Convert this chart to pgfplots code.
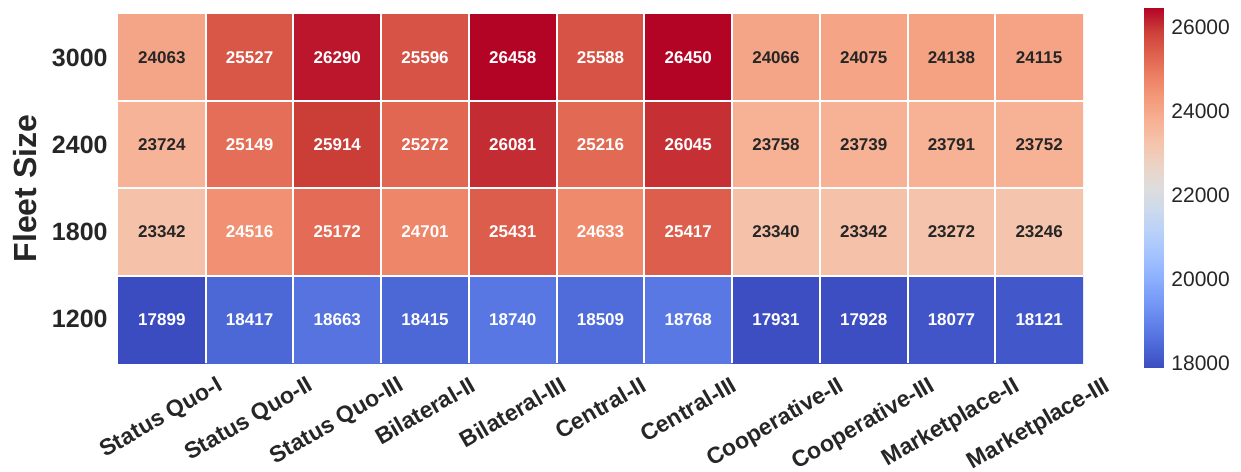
\documentclass[border=0pt]{standalone}
\usepackage{fontspec}
\setmainfont{Liberation Sans}
\usepackage{graphicx}
\usepackage{pgfplots}
\usepackage{pgfplotstable}
\pgfplotsset{compat=1.18}
\definecolor{txt}{HTML}{262626}

\pgfplotsset{
  colormap={coolwarm}{
    rgb255=(59,76,192) rgb255=(77,104,215) rgb255=(98,130,234)
    rgb255=(119,154,247) rgb255=(141,176,254) rgb255=(163,194,255)
    rgb255=(184,208,249) rgb255=(204,217,238) rgb255=(221,221,221)
    rgb255=(236,211,197) rgb255=(245,196,173) rgb255=(247,177,148)
    rgb255=(244,154,123) rgb255=(236,127,99) rgb255=(222,96,77)
    rgb255=(203,62,56) rgb255=(180,4,38)},
}

% Fleet-size x scenario costs; W = 1 marks cells labelled in white
\pgfplotstableread{
x y C W
0 0 17899 1
1 0 18417 1
2 0 18663 1
3 0 18415 1
4 0 18740 1
5 0 18509 1
6 0 18768 1
7 0 17931 1
8 0 17928 1
9 0 18077 1
10 0 18121 1
0 1 23342 0
1 1 24516 1
2 1 25172 1
3 1 24701 1
4 1 25431 1
5 1 24633 1
6 1 25417 1
7 1 23340 0
8 1 23342 0
9 1 23272 0
10 1 23246 0
0 2 23724 0
1 2 25149 1
2 2 25914 1
3 2 25272 1
4 2 26081 1
5 2 25216 1
6 2 26045 1
7 2 23758 0
8 2 23739 0
9 2 23791 0
10 2 23752 0
0 3 24063 0
1 3 25527 1
2 3 26290 1
3 3 25596 1
4 3 26458 1
5 3 25588 1
6 3 26450 1
7 3 24066 0
8 3 24075 0
9 3 24138 0
10 3 24115 0
}\costs

% colour scale range
\pgfplotstableread{
x y
0 17899
1 17899
0 26458
1 26458
}\scale

\begin{document}
\begin{tikzpicture}
\useasboundingbox (0,0) rectangle (620.5pt,235.5pt);
% heat map
\begin{axis}[
  at={(59pt,54pt)}, anchor=south west,
  scale only axis, width=482.5pt, height=174.5pt,
  xmin=-0.5, xmax=10.5, ymin=-0.5, ymax=3.5,
  enlargelimits=false,
  axis line style={draw=none},
  major tick length=0pt,
  axis on top,
  colormap name=coolwarm,
  point meta min=17899, point meta max=26458,
  xtick={0,...,10},
  xticklabels={
    \rotatebox{30}{Status Quo-I},
    \rotatebox{30}{Status Quo-II},
    \rotatebox{30}{Status Quo-III},
    \rotatebox{30}{Bilateral-II},
    \rotatebox{30}{Bilateral-III},
    \rotatebox{30}{Central-II},
    \rotatebox{30}{Central-III},
    \rotatebox{30}{Cooperative-II},
    \rotatebox{30}{Cooperative-III},
    \rotatebox{30}{Marketplace-II},
    \rotatebox{30}{Marketplace-III}},
  xticklabel style={anchor=north, inner sep=0pt, yshift=-6pt,
    font=\fontsize{11.5}{13}\selectfont\bfseries, text=txt},
  ytick={0,1,2,3},
  yticklabels={1200,1800,2400,3000},
  yticklabel style={anchor=east, inner sep=0pt, xshift=-5pt,
    font=\fontsize{12.5}{15}\selectfont\bfseries, text=txt},
  extra x ticks={0.5,1.5,...,9.5},
  extra x tick labels={},
  extra x tick style={grid=major, major grid style={white, line width=1pt}},
  extra y ticks={0.5,1.5,2.5},
  extra y tick labels={},
  extra y tick style={grid=major, major grid style={white, line width=1pt}},
  ylabel={Fleet Size},
  every axis y label/.style={
    at={([xshift=-40.5pt]axis description cs:0,0.5)},
    rotate=90, anchor=south, inner sep=0pt,
    font=\fontsize{16}{19}\selectfont\bfseries, text=txt},
]
\addplot[matrix plot*, mesh/cols=11, point meta=explicit]
  table[x=x, y=y, meta=C] {\costs};
\addplot[only marks, mark=none, point meta=explicit,
  visualization depends on={\thisrow{W} \as \wflag},
  nodes near coords={\ifdim\wflag pt>0.5pt\color{white}\else\color{txt}\fi
    \pgfmathprintnumber[fixed, precision=0, 1000 sep={},
      assume math mode=true]{\pgfplotspointmeta}},
  every node near coord/.append style={anchor=center,
    font=\fontsize{8.5}{10}\selectfont\bfseries}]
  table[x=x, y=y, meta=C] {\costs};
\end{axis}
% colour bar
\begin{axis}[
  at={(572pt,231.5pt)}, anchor=north west,
  scale only axis, width=9.5pt, height=180pt,
  xmin=0, xmax=1, ymin=17899, ymax=26458,
  enlargelimits=false,
  axis line style={draw=none},
  major tick length=0pt,
  xtick=\empty,
  yticklabel pos=right,
  ytick={18000,20000,22000,24000,26000},
  scaled y ticks=false,
  yticklabel style={anchor=west, inner sep=0pt, xshift=4pt,
    font=\fontsize{10.5}{12}\selectfont, text=txt,
    /pgf/number format/.cd, 1000 sep={}, assume math mode=true},
  colormap name=coolwarm,
  point meta min=17899, point meta max=26458,
]
\addplot[surf, shader=interp, mesh/rows=2, point meta=\thisrow{y}]
  table[x=x, y=y] {\scale};
\end{axis}
\end{tikzpicture}
\end{document}
